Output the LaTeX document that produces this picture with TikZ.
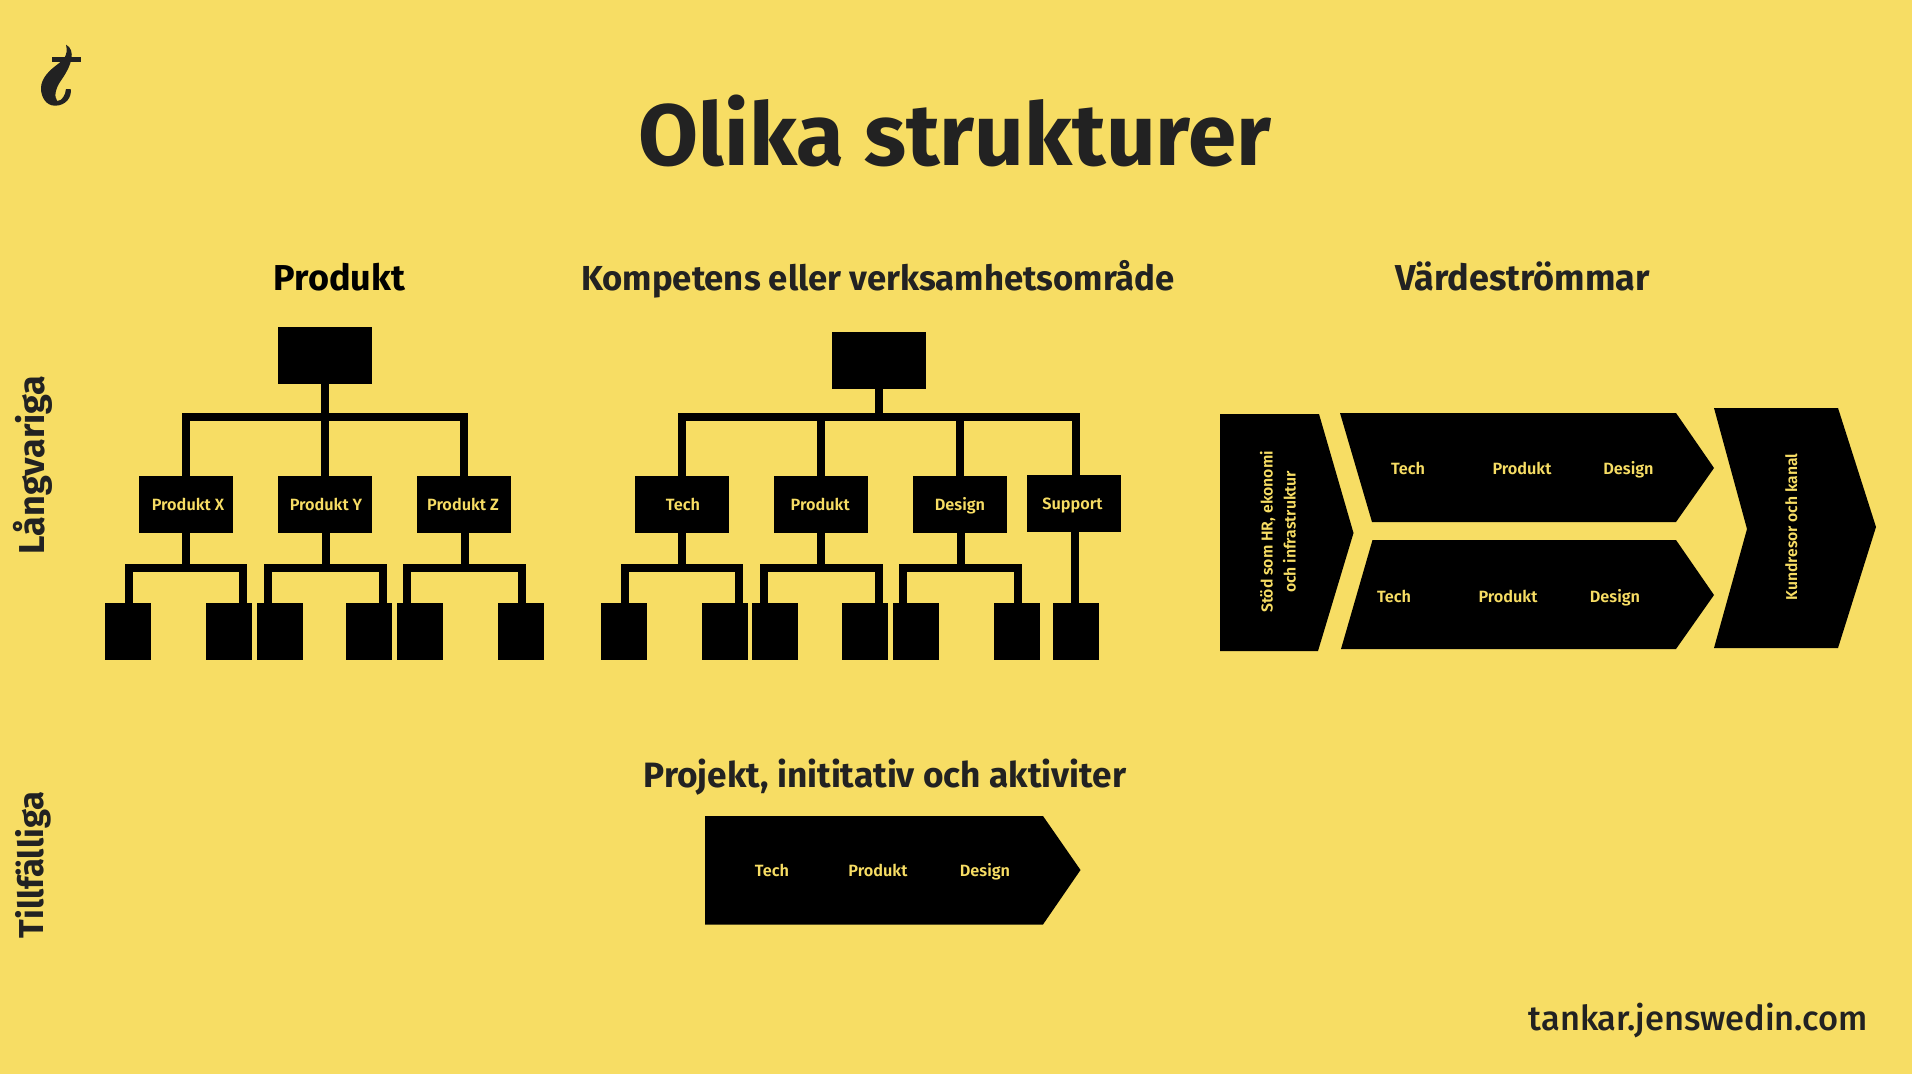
\documentclass[tikz,border=0pt]{standalone}
\usepackage{fontspec}
\setmainfont{Fira Sans}
\newfontfamily\sitefont{Fira Sans Medium}
\newfontfamily\flowfont{Fira Sans SemiBold}
\usetikzlibrary{calc}
\definecolor{paper}{HTML}{F7DD64}
\definecolor{ink}{HTML}{222222}

\begin{document}
\begin{tikzpicture}[
  x=1pt,y=-1pt,
  every node/.style={inner sep=0pt,font=\fontsize{16.3}{19}\flowfont},
  headbox/.style={fill=black,minimum width=94pt,minimum height=57pt},
  unitbox/.style={fill=black,text=paper,text height=14pt,text depth=2pt,minimum width=94pt,minimum height=57pt},
  leafbox/.style={fill=black,minimum width=46pt,minimum height=57pt},
  link/.style={draw=black,line width=8pt},
  stream/.style={fill=black},
  flowtext/.style={text=paper,text height=14pt,text depth=2pt},
  heading/.style={text=ink,font=\fontsize{36}{40}\selectfont\bfseries},
  sidetext/.style={text=ink,rotate=90,font=\fontsize{36}{40}\selectfont\bfseries}
]
  \fill[paper] (0,0) rectangle (1912,1074);
  \useasboundingbox (0,0) rectangle (1912,1074);

  % logo
  \fill[ink] (66,44.7) .. controls (71,47) and (72.5,53) .. (71.5,58)
    .. controls (70.5,66) and (65,75) .. (60,82)
    .. controls (56,88) and (53.5,97) .. (57.3,101)
    .. controls (62,101) and (65.5,95) .. (66,89) -- (70.7,89)
    .. controls (72,97) and (66,105.7) .. (55,105.7)
    .. controls (46,105.7) and (41,97) .. (41,88.3)
    .. controls (41,78) and (50,70) .. (56.7,65)
    .. controls (62,61) and (69,56) .. (66,44.7) -- cycle;
  \fill[ink] (52,57) rectangle (81,61.7);

  \node[text=ink,font=\fontsize{87}{90}\selectfont\bfseries] (title) at (955,130.5) {Olika strukturer};
  \node[heading,text=black] (headProd) at (339.5,277) {Produkt};
  \node[heading,font=\fontsize{34.7}{40}\selectfont\bfseries] (headComp) at (878,279) {Kompetens eller verksamhetsområde};
  \node[heading] (headFlow) at (1522.5,276.5) {Värdeströmmar};
  \node[heading,font=\fontsize{35.2}{40}\selectfont\bfseries] (headProj) at (885,777) {Projekt, inititativ och aktiviter};
  \node[sidetext] (sideLong) at (33,465) {Långvariga};
  \node[sidetext,font=\fontsize{34.6}{40}\selectfont\bfseries] (sideTemp) at (33,865) {Tillfälliga};
  \node[text=ink,anchor=east,font=\fontsize{34.4}{40}\sitefont] (site) at (1868,1021) {tankar.jenswedin.com};

  % product tree
  \node[headbox] (rootA) at (325,355.5) {};
  \node[unitbox] (prodX) at (186,504.5) {\hspace*{4pt}Produkt X};
  \node[unitbox] (prodY) at (325,504.5) {\hspace*{2pt}Produkt Y};
  \node[unitbox] (prodZ) at (464,504.5) {\hspace*{-2pt}Produkt Z};
  \node[leafbox] (leafXa) at (128,631.5) {};
  \node[leafbox] (leafXb) at (229,631.5) {};
  \node[leafbox] (leafYa) at (279.5,631.5) {};
  \node[leafbox] (leafYb) at (369,631.5) {};
  \node[leafbox] (leafZa) at (420,631.5) {};
  \node[leafbox] (leafZb) at (521,631.5) {};

  \coordinate (busA) at (325,417);
  \coordinate (busX) at (186,568);
  \coordinate (busY) at (326,568);
  \coordinate (busZ) at (465,568);
  \draw[link] (rootA.south) -- (busA);
  \draw[link] (prodY.north) -- (busA);
  \draw[link] (prodX.north) |- (busA) -| (prodZ.north);
  \draw[link] (prodX.south) -- (busX);
  \draw[link] ([xshift=1pt]leafXa.north) |- (busX) -| ([xshift=14pt]leafXb.north);
  \draw[link] ([xshift=1pt]prodY.south) -- (busY);
  \draw[link] ([xshift=-11.5pt]leafYa.north) |- (busY) -| ([xshift=14pt]leafYb.north);
  \draw[link] ([xshift=1pt]prodZ.south) -- (busZ);
  \draw[link] ([xshift=-13pt]leafZa.north) |- (busZ) -| ([xshift=1pt]leafZb.north);

  % competence tree
  \node[headbox] (rootB) at (879,360.5) {};
  \node[unitbox] (unitTech) at (682,504.5) {\hspace*{2pt}Tech};
  \node[unitbox] (unitProd) at (821,504.5) {\hspace*{-1.5pt}Produkt};
  \node[unitbox] (unitDes) at (960,504.5) {Design};
  \node[unitbox] (unitSup) at (1074,503.5) {\hspace*{-3pt}Support};
  \node[leafbox] (leafTa) at (623.5,631.5) {};
  \node[leafbox] (leafTb) at (725,631.5) {};
  \node[leafbox] (leafPa) at (775,631.5) {};
  \node[leafbox] (leafPb) at (865,631.5) {};
  \node[leafbox] (leafDa) at (916,631.5) {};
  \node[leafbox] (leafDb) at (1017,631.5) {};
  \node[leafbox] (leafS) at (1076,631.5) {};

  \coordinate (busB) at (879,417);
  \coordinate (busT) at (682,568);
  \coordinate (busP) at (821,568);
  \coordinate (busD) at (961,568);
  \draw[link] (rootB.south) -- (busB);
  \draw[link] (unitTech.north) |- (busB) -| ([xshift=2pt]unitSup.north);
  \draw[link] (unitProd.north) -- (unitProd.north |- busB);
  \draw[link] (unitDes.north) -- (unitDes.north |- busB);
  \draw[link] (unitTech.south) -- (busT);
  \draw[link] ([xshift=1.5pt]leafTa.north) |- (busT) -| ([xshift=14pt]leafTb.north);
  \draw[link] (unitProd.south) -- (busP);
  \draw[link] ([xshift=-11pt]leafPa.north) |- (busP) -| ([xshift=14pt]leafPb.north);
  \draw[link] ([xshift=1pt]unitDes.south) -- (busD);
  \draw[link] ([xshift=-13pt]leafDa.north) |- (busD) -| ([xshift=1pt]leafDb.north);
  \draw[link] ([xshift=1pt]unitSup.south) -- ([xshift=-1pt]leafS.north);

  % value streams
  \fill[stream] (1220,414) -- (1319,414) -- (1353.5,533) -- (1318,651) -- (1220,651) -- cycle;
  \fill[stream] (1340,413) -- (1676,413) -- (1714,468) -- (1676,522) -- (1372,522) -- cycle;
  \fill[stream] (1372.5,540) -- (1676,540) -- (1714,595) -- (1676,649) -- (1341,649) -- cycle;
  \fill[stream] (1714,408) -- (1838,408) -- (1876,527) -- (1838,648) -- (1714,648) -- (1747,529) -- cycle;
  \fill[stream] (705,816) -- (1043,816) -- (1080.5,870) -- (1043,924.5) -- (705,924.5) -- cycle;

  \node[text=paper,rotate=90,align=center,font=\fontsize{15.8}{19}\flowfont] (support) at (1278,532) {Stöd som HR, ekonomi\\[4pt]och infrastruktur};
  \node[flowtext,rotate=90,font=\fontsize{15.7}{19}\flowfont] (journey) at (1791,527) {Kundresor och kanal};
  \node[flowtext] (flowTa) at (1408,468) {Tech};
  \node[flowtext] (flowPa) at (1522,468) {Produkt};
  \node[flowtext] (flowDa) at (1628.5,468) {Design};
  \node[flowtext] (flowTb) at (1394,596) {Tech};
  \node[flowtext] (flowPb) at (1508,596) {Produkt};
  \node[flowtext] (flowDb) at (1615,596) {Design};
  \node[flowtext] (projT) at (772,870.5) {Tech};
  \node[flowtext] (projP) at (878,870.5) {Produkt};
  \node[flowtext] (projD) at (985,870.5) {Design};
\end{tikzpicture}
\end{document}
